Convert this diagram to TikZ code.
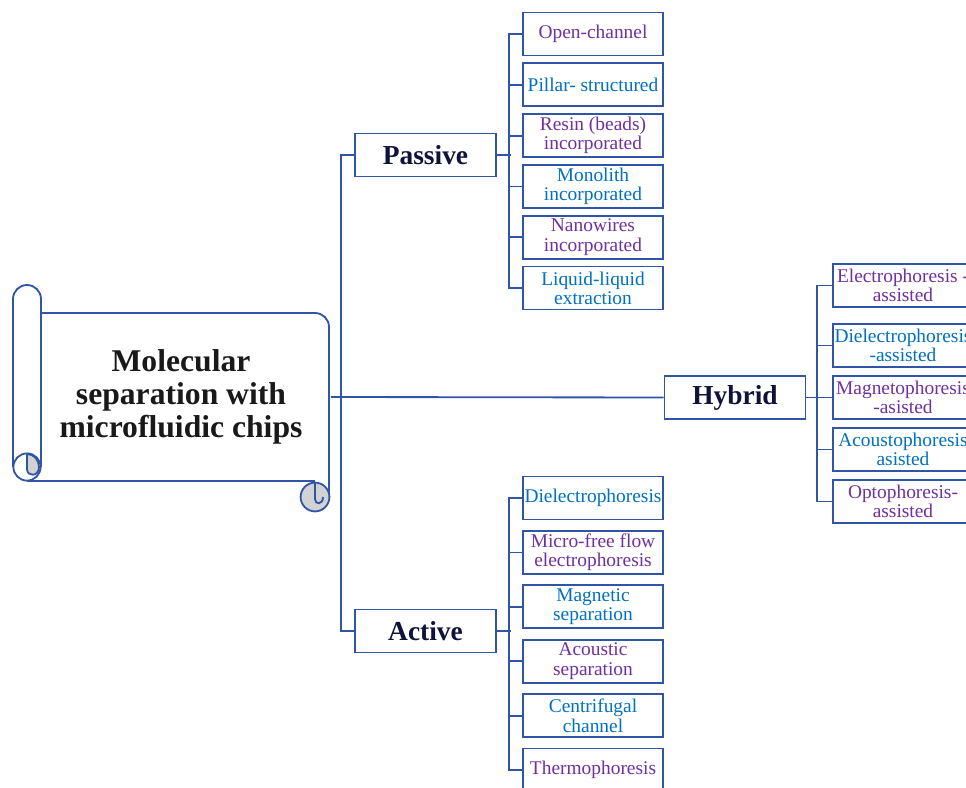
\documentclass[tikz,border=0pt]{standalone}
\usepackage{fontspec}
\setmainfont{Liberation Serif}
\usetikzlibrary{positioning}
\definecolor{linecol}{HTML}{2F55A4}
\definecolor{leafpurple}{HTML}{7030A0}
\definecolor{leafblue}{HTML}{0070C0}
\definecolor{headcol}{HTML}{10123A}
\definecolor{curlgray}{HTML}{D2D2D2}

\begin{document}
\begin{tikzpicture}[x=0.025cm,y=-0.025cm,line width=1.3pt,on grid,
   link/.style={draw=linecol},
   cat/.style={draw=linecol,fill=white,minimum width=3.525cm,minimum height=1.075cm,
      font=\fontsize{19.5}{21}\selectfont\bfseries,text=headcol},
   leaf/.style={draw=linecol,fill=white,minimum width=3.5cm,minimum height=1.075cm,
      inner sep=1pt,align=center,font=\fontsize{13.8}{13.8}\selectfont},
   pu/.style={leaf,text=leafpurple},
   bl/.style={leaf,text=leafblue}]
\useasboundingbox (0,0) rectangle (966,788);
\clip (0,0) rectangle (966,788);

   \node[minimum width=7.45cm,minimum height=4.2cm,align=center,text=black!90,
      font=\fontsize{22.5}{23.5}\selectfont\bfseries] (chip) at (181,397)
      {Molecular\\separation with\\microfluidic chips};
   \node[cat] (passive) at (425.5,155) {Passive};
   \node[cat] (active)  at (425.5,631) {Active};
   \node[cat] (hybrid)  at (735,397.5) {Hybrid};

   \begin{scope}[node distance=1.27cm]
   \node[pu] (p_1) at (593,34)     {Open-channel};
   \node[bl] (p_2) [below=of p_1]  {Pillar- structured};
   \node[pu] (p_3) [below=of p_2]  {Resin (beads)\\incorporated};
   \node[bl] (p_4) [below=of p_3]  {Monolith\\incorporated};
   \node[pu] (p_5) [below=of p_4]  {Nanowires\\incorporated};
   \node[bl] (p_6) [below=of p_5]  {Liquid-liquid\\extraction};
   \end{scope}

   \begin{scope}[node distance=1.36cm]
   \node[bl] (a_1) at (593,498)    {Dielectrophoresis};
   \node[pu] (a_2) [below=of a_1]  {Micro-free flow\\electrophoresis};
   \node[bl] (a_3) [below=of a_2]  {Magnetic\\separation};
   \node[pu] (a_4) [below=of a_3]  {Acoustic\\separation};
   \node[bl] (a_5) [below=of a_4]  {Centrifugal\\channel};
   \node[pu] (a_6) [below=of a_5]  {Thermophoresis};
   \end{scope}

   \begin{scope}[node distance=1.3cm]
   \node[pu] (h_1) at (903,285.5)        {Electrophoresis -\\assisted};
   \node[bl] (h_2) [below=1.5cm of h_1]  {Dielectrophoresis\\-assisted};
   \node[pu] (h_3) [below=of h_2]        {Magnetophoresis\\-asisted};
   \node[bl] (h_4) [below=of h_3]        {Acoustophoresis\\asisted};
   \node[pu] (h_5) [below=of h_4]        {Optophoresis-\\assisted};
   \end{scope}

   \draw[link] (chip.east) -- (hybrid.west);
   \draw[link] (passive.west) -- ++(-13,0) |- (active.west);

   \draw[link] (passive.east) -- ++(14,0);
   \draw[link] (p_1.west) -| ([xshift=-0.325cm]p_6.west) -- (p_6.west);
   \foreach \n in {p_2,p_3,p_4,p_5} \draw[link] (\n.west) -- ++(-13,0);

   \draw[link] (active.east) -- ++(14,0);
   \draw[link] (a_1.west) -| ([xshift=-0.325cm]a_6.west) -- (a_6.west);
   \foreach \n in {a_2,a_3,a_4,a_5} \draw[link] (\n.west) -- ++(-13,0);

   \draw[link] (hybrid.east) -- ++(13,0);
   \draw[link] (h_1.west) -| ([xshift=-0.375cm]h_5.west) -- (h_5.west);
   \foreach \n in {h_2,h_3,h_4} \draw[link] (\n.west) -- ++(-15,0);

   \draw[link,rounded corners=0.35cm] (41,467) -- (41,285) -- (13,285) -- (13,467);
   \draw[link] (27,467) circle[radius=0.34cm];
   \filldraw[link,fill=curlgray] (27,454) -- (27,469) .. controls (27,477) and (39,477) .. (39,467)
      .. controls (39,460) and (34,454) .. (27,454);
   \draw[link,rounded corners=0.35cm] (41,313) -- (329,313) -- (329,497);
   \draw[link] (27,481) -- (315,481);
   \filldraw[link,fill=curlgray] (315,497) circle[radius=0.36cm];
   \draw[link] (315,483) -- (315,499) .. controls (315,505) and (323,505) .. (323,497);
\end{tikzpicture}
\end{document}
